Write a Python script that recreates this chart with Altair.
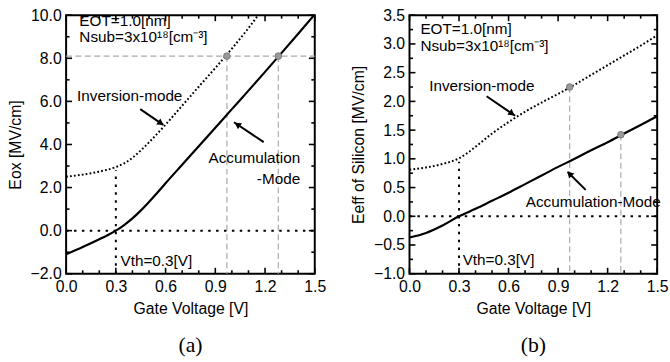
import altair as alt
import pandas as pd

# ---------------- data ----------------
# Panel (a): Eox vs gate voltage
a_inv_x = [0.0, 0.1, 0.2, 0.3, 0.35, 0.4, 0.45, 0.5, 0.6, 0.7, 0.8, 0.9, 1.0, 1.1, 1.158]
a_inv_y = [2.5, 2.6, 2.74, 2.95, 3.12, 3.38, 3.72, 4.1, 4.92, 5.8, 6.68, 7.55, 8.45, 9.4, 10.0]
a_acc_x = [0.0, 0.1, 0.2, 0.25, 0.3, 0.35, 0.4, 0.45, 0.5, 0.55, 0.6, 0.7, 0.8, 0.9, 1.0, 1.1, 1.2, 1.3, 1.4, 1.5]
a_acc_y = [-1.1, -0.76, -0.4, -0.21, 0.0, 0.26, 0.57, 0.93, 1.33, 1.76, 2.2, 3.06, 3.92, 4.78, 5.64, 6.5, 7.37, 8.25, 9.14, 10.04]
a_mark_x = [0.97, 1.28]
a_mark_y = [8.1, 8.1]

# Panel (b): Eeff of silicon vs gate voltage
b_inv_x = [0.0, 0.1, 0.2, 0.3, 0.35, 0.4, 0.5, 0.6, 0.7, 0.8, 0.9, 1.0, 1.1, 1.2, 1.3, 1.4, 1.5]
b_inv_y = [0.81, 0.85, 0.91, 1.01, 1.1, 1.21, 1.44, 1.64, 1.82, 1.98, 2.13, 2.29, 2.46, 2.63, 2.8, 2.97, 3.15]
b_acc_x = [0.0, 0.1, 0.2, 0.3, 0.4, 0.5, 0.6, 0.7, 0.8, 0.9, 1.0, 1.1, 1.2, 1.3, 1.4, 1.5]
b_acc_y = [-0.37, -0.29, -0.16, 0.0, 0.13, 0.27, 0.41, 0.56, 0.71, 0.86, 1.0, 1.15, 1.29, 1.44, 1.59, 1.74]
b_mark_x = [0.97, 1.28]
b_mark_y = [2.25, 1.42]

vth = 0.3
x_major = [0.0, 0.3, 0.6, 0.9, 1.2, 1.5]
x_minor = [0.1, 0.2, 0.4, 0.5, 0.7, 0.8, 1.0, 1.1, 1.3, 1.4]
a_y_major = [-2, 0, 2, 4, 6, 8, 10]
a_y_minor = [-1, 1, 3, 5, 7, 9]
b_y_major = [-1.0, -0.5, 0.0, 0.5, 1.0, 1.5, 2.0, 2.5, 3.0, 3.5]
b_y_minor = [-0.75, -0.25, 0.25, 0.75, 1.25, 1.75, 2.25, 2.75, 3.25]

# annotations: text, x, y, align
a_texts = [
    ("EOT=1.0[nm]", 0.08, 9.75, "left"),
    ("Nsub=3x10¹⁸[cm⁻³]", 0.08, 8.99, "left"),
    ("Inversion-mode", 0.066, 6.24, "left"),
    ("Accumulation", 1.412, 3.35, "right"),
    ("-Mode", 1.412, 2.39, "right"),
    ("Vth=0.3[V]", 0.328, -1.42, "left"),
]
b_texts = [
    ("EOT=1.0[nm]", 0.066, 3.26, "left"),
    ("Nsub=3x10¹⁸[cm⁻³]", 0.066, 2.96, "left"),
    ("Inversion-mode", 0.119, 2.26, "left"),
    ("Accumulation-Mode", 0.704, 0.246, "left"),
    ("Vth=0.3[V]", 0.322, -0.77, "left"),
]
# arrows: tail x, tail y, tip x, tip y, head angle (deg)
a_arrows = [(0.447, 5.64, 0.586, 4.91, 124.5), (1.192, 4.11, 1.013, 5.03, 303.7)]
b_arrows = [(0.467, 2.09, 0.64, 1.75, 124.6), (1.067, 0.46, 0.958, 0.77, 315.2)]

FONT = "Liberation Sans"


def panel(inv_x, inv_y, acc_x, acc_y, mk_x, mk_y, ydom, ymaj, ymin, ytitle,
          texts, arrows, hline, vth_top, label, W, H):
    xs = alt.Scale(domain=[0, 1.5], nice=False, zero=False)
    ys = alt.Scale(domain=ydom, nice=False, zero=False)
    xax = alt.Axis(values=x_major, format=".1f", ticks=False, domain=False, grid=False,
                   labelFont=FONT, labelFontSize=16, labelColor="black", labelPadding=5,
                   labelFlush=False, labelOverlap=False,
                   title="Gate Voltage [V]", titleFont=FONT, titleFontSize=16,
                   titleFontWeight="normal", titleColor="black", titlePadding=6)
    yax = alt.Axis(values=ymaj, format=".1f", ticks=False, domain=False, grid=False,
                   labelFont=FONT, labelFontSize=16, labelColor="black", labelPadding=5,
                   labelFlush=False, labelOverlap=False,
                   title=ytitle, titleFont=FONT, titleFontSize=16,
                   titleFontWeight="normal", titleColor="black", titlePadding=7)
    X = lambda f: alt.X(f, type="quantitative", scale=xs, axis=xax)
    Y = lambda f: alt.Y(f, type="quantitative", scale=ys, axis=yax)

    layers = []
    # gray dashed guide lines
    gx, gy, gx2, gy2 = [], [], [], []
    for mx, my in zip(mk_x, mk_y):
        gx.append(mx); gy.append(my); gx2.append(mx); gy2.append(ydom[0])
    if hline is not None:
        gx.append(0.0); gy.append(hline); gx2.append(1.5); gy2.append(hline)
    gdf = pd.DataFrame({"x": gx, "y": gy, "x2": gx2, "y2": gy2})
    layers.append(alt.Chart(gdf).mark_rule(color="#aaaaaa", strokeWidth=1.2, strokeDash=[6, 3.5])
                  .encode(x=X("x"), y=Y("y"), x2="x2", y2="y2"))
    # black dotted reference lines: E=0 and Vth
    rdf = pd.DataFrame({"x": [0.0, vth], "y": [0.0, ydom[0]], "x2": [1.5, vth], "y2": [0.0, vth_top]})
    layers.append(alt.Chart(rdf).mark_rule(color="black", strokeWidth=2, strokeDash=[2.5, 5.5])
                  .encode(x=X("x"), y=Y("y"), x2="x2", y2="y2"))
    # curves
    inv = pd.DataFrame({"v": inv_x, "e": inv_y})
    acc = pd.DataFrame({"v": acc_x, "e": acc_y})
    layers.append(alt.Chart(inv).mark_line(color="black", strokeWidth=2, strokeDash=[1.8, 2.2],
                                           interpolate="monotone", clip=True)
                  .encode(x=X("v"), y=Y("e")))
    layers.append(alt.Chart(acc).mark_line(color="black", strokeWidth=2.2,
                                           interpolate="monotone", clip=True)
                  .encode(x=X("v"), y=Y("e")))
    # markers
    mdf = pd.DataFrame({"x": mk_x, "y": mk_y})
    layers.append(alt.Chart(mdf).mark_point(shape="circle", filled=True, size=45, fill="#9a9a9a",
                                            stroke="#7a7a7a", strokeWidth=1, opacity=1)
                  .encode(x=X("x"), y=Y("y")))
    # arrows: shaft + triangular head placed just behind the tip
    adf = pd.DataFrame({"x": [a[0] for a in arrows], "y": [a[1] for a in arrows],
                        "x2": [a[2] for a in arrows], "y2": [a[3] for a in arrows],
                        "hx": [a[2] - 0.14 * (a[2] - a[0]) for a in arrows],
                        "hy": [a[3] - 0.14 * (a[3] - a[1]) for a in arrows],
                        "ang": [a[4] for a in arrows]})
    layers.append(alt.Chart(adf).mark_rule(color="black", strokeWidth=2)
                  .encode(x=X("x"), y=Y("y"), x2="x2", y2="y2"))
    layers.append(alt.Chart(adf).mark_point(shape="triangle", filled=True, size=55, color="black",
                                            opacity=1)
                  .encode(x=X("hx"), y=Y("hy"), angle=alt.Angle("ang:Q", scale=None)))
    # texts
    for t, tx, ty, al in texts:
        tdf = pd.DataFrame({"x": [tx], "y": [ty], "t": [t]})
        layers.append(alt.Chart(tdf).mark_text(font=FONT, fontSize=15.5, color="black", align=al,
                                               baseline="middle")
                      .encode(x=X("x"), y=Y("y"), text="t:N"))
    # inward ticks on all four sides
    for vals, ln in ((x_major, 6), (x_minor, 3.5)):
        tdf = pd.DataFrame({"v": vals})
        layers.append(alt.Chart(tdf).mark_rule(color="black", strokeWidth=1.6)
                      .encode(x=X("v"), y=alt.value(H), y2=alt.value(H - ln)))
        layers.append(alt.Chart(tdf).mark_rule(color="black", strokeWidth=1.6)
                      .encode(x=X("v"), y=alt.value(0), y2=alt.value(ln)))
    for vals, ln in ((ymaj, 6), (ymin, 3.5)):
        tdf = pd.DataFrame({"v": vals})
        layers.append(alt.Chart(tdf).mark_rule(color="black", strokeWidth=1.6)
                      .encode(y=Y("v"), x=alt.value(0), x2=alt.value(ln)))
        layers.append(alt.Chart(tdf).mark_rule(color="black", strokeWidth=1.6)
                      .encode(y=Y("v"), x=alt.value(W), x2=alt.value(W - ln)))
    return alt.layer(*layers).properties(
        width=W, height=H,
        title=alt.TitleParams(label, orient="bottom", font="Liberation Serif", fontSize=22,
                              fontWeight="normal", color="black", anchor="middle",
                              frame="group", offset=19))


pa = panel(a_inv_x, a_inv_y, a_acc_x, a_acc_y, a_mark_x, a_mark_y, [-2, 10], a_y_major, a_y_minor,
           "Eox [MV/cm]", a_texts, a_arrows, 8.1, 2.8, "(a)", 252, 262)
pb = panel(b_inv_x, b_inv_y, b_acc_x, b_acc_y, b_mark_x, b_mark_y, [-1, 3.5], b_y_major, b_y_minor,
           "Eeff of Silicon [MV/cm]", b_texts, b_arrows, None, 0.95, "(b)", 251, 262)

chart = alt.hconcat(pa, pb, spacing=22).properties(
    padding={"left": 6, "top": 4, "right": 0, "bottom": 0},
    background="white",
).configure_view(stroke="black", strokeWidth=2)

chart.save("out.html", embed_options={"renderer": "svg", "actions": False})
